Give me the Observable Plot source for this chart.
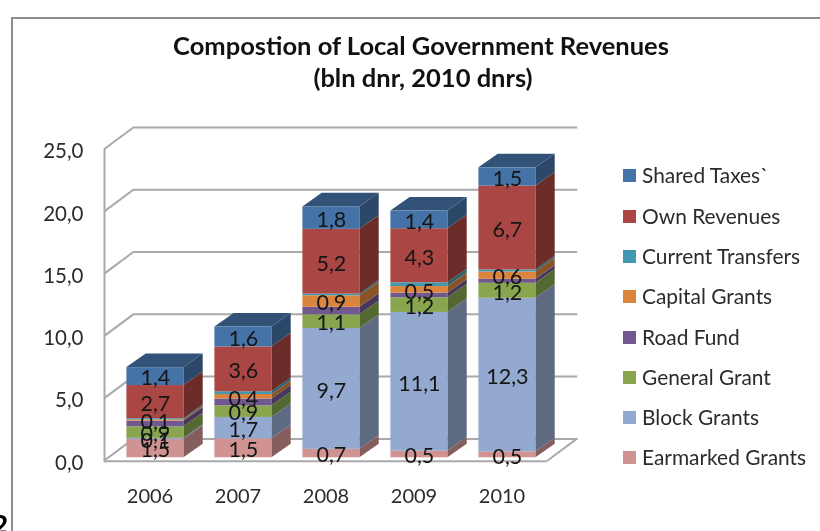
<!DOCTYPE html>
<html>
<head>
<meta charset="utf-8">
<script src="https://cdn.jsdelivr.net/npm/d3@7"></script>
<script src="https://cdn.jsdelivr.net/npm/@observablehq/plot@0.6"></script>
<style>
html,body{margin:0;padding:0;background:#fff;width:820px;height:531px;overflow:hidden;font-family:Lato,sans-serif}
#wrap{position:relative;width:820px;height:531px;overflow:hidden;filter:blur(0.35px)}
#frame{position:absolute;left:11px;top:17px;width:830px;height:530px;border:2px solid #8e8e8e;box-sizing:border-box}
.t{position:absolute;left:173px;width:496px;text-align:center;font-weight:700;font-size:25.5px;color:#111;white-space:nowrap}
.leg{position:absolute;left:642px;font-size:20.9px;color:#2b2b2b;white-space:nowrap;line-height:24px}
.sw{position:absolute;left:623px;width:13px;height:13px}
#frag{position:absolute;left:-7px;top:511px;font-weight:900;font-size:26px;line-height:26px;color:#000}
svg{position:absolute;left:0;top:0}
</style>
</head>
<body>
<div id="wrap">
<div id="frame"></div>
<div class="t" style="top:30px">Compostion of Local Government Revenues</div>
<div class="t" style="top:62px;left:175px">(bln dnr, 2010 dnrs)</div>
<div id="frag">2</div>
</div>
<script>
const years = ["2006","2007","2008","2009","2010"];
const seriesNames = ["Earmarked Grants","Block Grants","General Grant","Road Fund","Capital Grants","Current Transfers","Own Revenues","Shared Taxes`"];
const seriesColors = ["#d19392","#93a9cf","#89a54e","#71588f","#db843d","#4198af","#aa4643","#4572a7"];
const earmarked = [1.46,1.52,0.68,0.53,0.48];
const block     = [0.10,1.72,9.70,11.14,12.33];
const general   = [0.93,0.93,1.10,1.18,1.20];
const roadFund  = [0.45,0.55,0.60,0.37,0.32];
const capital   = [0.10,0.36,0.93,0.53,0.59];
const transfers = [0.10,0.22,0.13,0.30,0.16];
const own       = [2.66,3.60,5.20,4.34,6.74];
const shared    = [1.44,1.60,1.80,1.42,1.46];
const allValues = [earmarked,block,general,roadFund,capital,transfers,own,shared];
const unlabelled = ["Road Fund","Current Transfers"];
const yTicks = [0,5,10,15,20,25];

const rows = seriesNames.flatMap((s,i)=>years.map((y,j)=>({year:y,series:s,value:allValues[i][j]})));
const fmt = v => v.toFixed(1).replace(".",",");

function cube(index, scales, values, dims, ctx, next){
  const g = next(index, scales, values, dims, ctx);
  const D = 19.3, H = 13.6;
  const rects = Array.from(g.querySelectorAll("rect"));
  rects.forEach((r,k)=>{
    const x=+r.getAttribute("x"), y=+r.getAttribute("y"), w=+r.getAttribute("width"), h=+r.getAttribute("height");
    const fill=r.getAttribute("fill");
    const c=d3.rgb(fill);
    const shade=f=>`rgb(${c.r*f},${c.g*f},${c.b*f})`;
    const add=(pts,col)=>{
      const p=document.createElementNS("http://www.w3.org/2000/svg","polygon");
      p.setAttribute("points",pts.map(q=>q.join(",")).join(" "));
      p.setAttribute("fill",col);
      r.parentNode.insertBefore(p,r);
    };
    add([[x+w,y],[x+w+D,y-H],[x+w+D,y+h-H],[x+w,y+h]],shade(0.63));
    if(rows[index[k]].series===seriesNames[seriesNames.length-1])
      add([[x,y],[x+D,y-H],[x+w+D,y-H],[x+w,y]],shade(0.72));
  });
  return g;
}

const wallDx = 30, wallDy = -22.3, lineC = "#a9a9a9";
function walls(index, {y}, values, dims){
  const g = d3.create("svg:g").attr("stroke",lineC).attr("stroke-width",2).attr("fill","none");
  for(const t of yTicks){
    g.append("line").attr("x1",dims.marginLeft).attr("y1",y(t))
      .attr("x2",dims.marginLeft+wallDx).attr("y2",y(t)+wallDy);
  }
  const xr = dims.width-dims.marginRight;
  g.append("line").attr("x1",xr).attr("y1",y(0)).attr("x2",xr+wallDx).attr("y2",y(0)+wallDy);
  return g.node();
}

const chart = Plot.plot({
  width:820, height:531,
  marginLeft:104, marginRight:272.7, marginTop:149.3, marginBottom:70.3,
  style:{fontFamily:"Lato, sans-serif",background:"transparent",overflow:"visible"},
  x:{domain:years,paddingInner:0.357,paddingOuter:0.1785,label:null},
  y:{domain:[0,25],label:null},
  color:{domain:seriesNames,range:seriesColors},
  marks:[
    Plot.ruleY(yTicks,{stroke:lineC,strokeWidth:2,dx:wallDx,dy:wallDy}),
    walls,
    Plot.ruleY([0],{stroke:lineC,strokeWidth:2}),
    Plot.frame({anchor:"left",stroke:lineC,strokeWidth:2}),
    Plot.axisY(yTicks,{tickSize:0,tickPadding:21,fontSize:20.5,dy:2,color:"#2b2b2b",tickFormat:fmt,label:null}),
    Plot.axisX({tickSize:0,tickPadding:28,fontSize:20,color:"#2b2b2b",label:null}),
    Plot.barY(rows,Plot.stackY({x:"year",y:"value",z:"series",fill:"series",dx:5.4,dy:-3.4,render:cube})),
    Plot.text(rows,Plot.stackY({x:"year",y:"value",z:"series",
      text:d=>unlabelled.includes(d.series)?"":fmt(d.value),
      fontSize:21.5,fill:"#151515",dx:5.4,dy:-1.5}))
  ]
});
const wrap=document.getElementById("wrap");
wrap.appendChild(chart);
const legY=[175.7,216,256.3,296.7,337,377.3,417.7,457.3];
[...seriesNames].reverse().forEach((s,i)=>{
  const col=seriesColors[seriesNames.length-1-i];
  const sw=document.createElement("div");sw.className="sw";sw.style.top=(legY[i]-6.5)+"px";sw.style.background=col;wrap.appendChild(sw);
  const t=document.createElement("div");t.className="leg";t.textContent=s;t.style.top=(legY[i]-12.5)+"px";wrap.appendChild(t);
});
</script>
</body>
</html>
